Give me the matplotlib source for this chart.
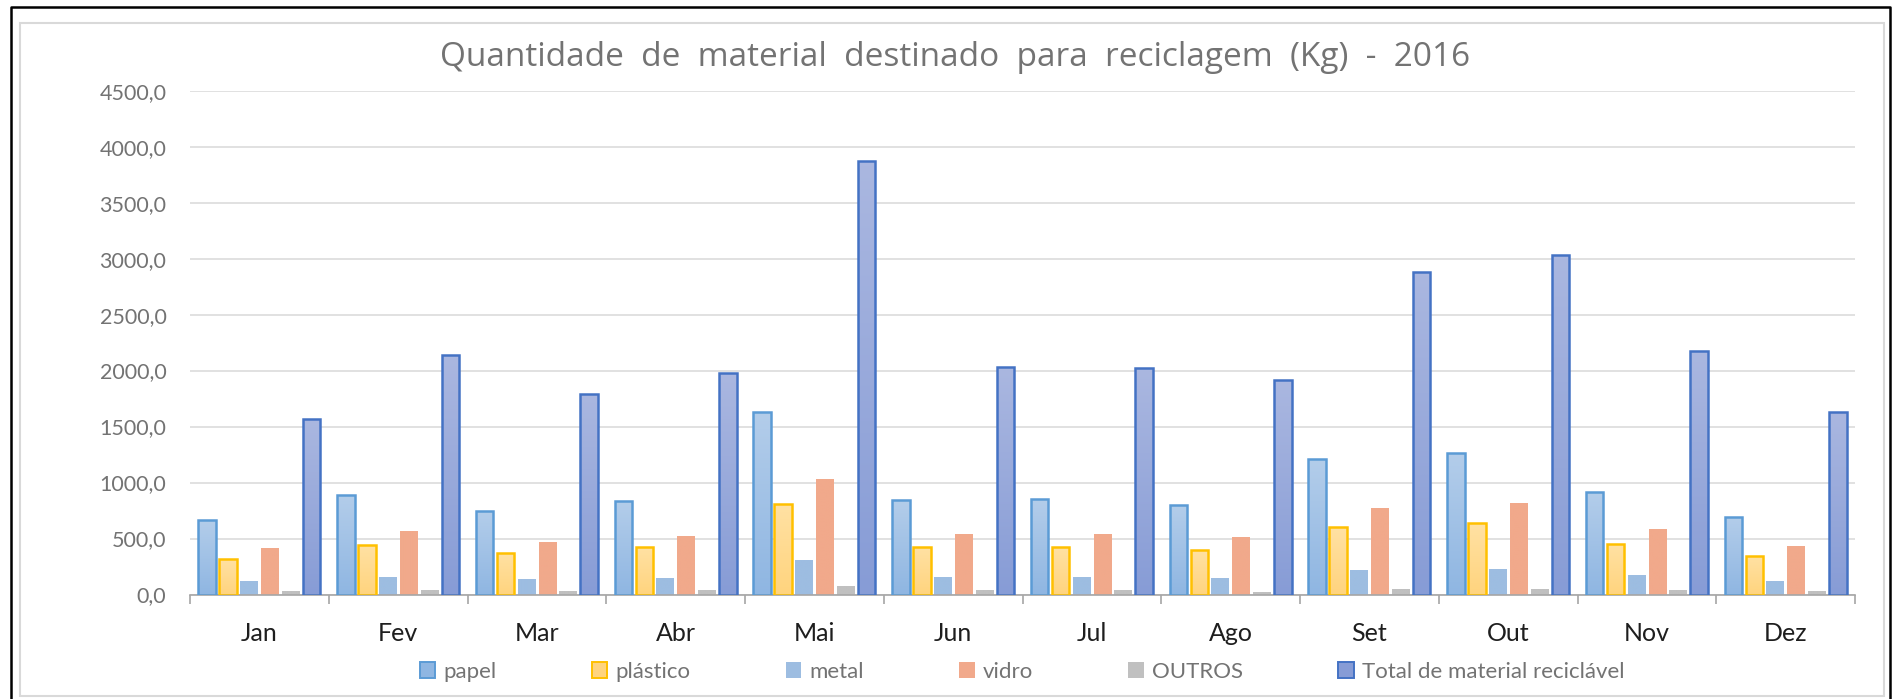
import numpy as np
import matplotlib
matplotlib.use('Agg')
import matplotlib.pyplot as plt
from matplotlib.colors import LinearSegmentedColormap
from matplotlib.patches import Patch, Rectangle
from matplotlib.lines import Line2D
from matplotlib.ticker import FuncFormatter

plt.rcParams['font.family'] = ['Lato', 'DejaVu Sans']

# data (kg)
meses = ['Jan', 'Fev', 'Mar', 'Abr', 'Mai', 'Jun', 'Jul', 'Ago', 'Set', 'Out', 'Nov', 'Dez']
papel = [664, 893, 750, 833, 1627, 845, 849, 801, 1214, 1268, 916, 688]
plastico = [321, 443, 371, 422, 806, 422, 420, 397, 600, 637, 452, 342]
metal = [122, 157, 134, 146, 304, 159, 160, 148, 220, 232, 170, 121]
vidro = [416, 571, 473, 523, 1032, 536, 537, 513, 771, 813, 583, 434]
outros = [30, 38, 27, 39, 74, 38, 38, 25, 52, 50, 36, 27]
total = [1572, 2135, 1795, 1974, 3874, 2031, 2022, 1914, 2882, 3035, 2179, 1634]

nomes = ['papel', 'plástico', 'metal', 'vidro', 'OUTROS', 'Total de material reciclável']
series = [papel, plastico, metal, vidro, outros, total]

# (top colour, bottom colour, edge colour)
estilos = [
    ('#B3CDEA', '#8FB6E2', '#5B9BD5'),
    ('#FFE1A3', '#FFD47E', '#FFC000'),
    ('#9DBDE1', '#9DBDE1', None),
    ('#F1A98B', '#F1A98B', None),
    ('#C0C0C0', '#C0C0C0', None),
    ('#AAB7E0', '#879CD6', '#4472C4'),
]

W, H = 1896, 699
fig = plt.figure(figsize=(W / 100, H / 100), dpi=100)
ax = fig.add_axes([190 / W, 1 - 594.5 / H, (1855 - 190) / W, (594.5 - 90.7) / H])

x = np.arange(len(meses))
passo = 0.1506
larg = 0.126

for i, (vals, (top, bot, edge)) in enumerate(zip(series, estilos)):
    pos = x + (i - 2.5) * passo
    bars = ax.bar(pos, vals, width=larg, facecolor='none',
                  edgecolor=edge if edge else 'none', linewidth=1.8, zorder=3)
    cmap = LinearSegmentedColormap.from_list('g%d' % i, [bot, top])
    for b in bars:
        x0, w, h = b.get_x(), b.get_width(), b.get_height()
        ax.imshow(np.linspace(0, 1, 64).reshape(-1, 1), extent=[x0, x0 + w, 0, h],
                  origin='lower', aspect='auto', cmap=cmap, zorder=2,
                  interpolation='bilinear')

ax.set_xlim(-0.5, 11.5)
ax.set_ylim(0, 4500)
ax.set_yticks(np.arange(0, 4501, 500))
ax.yaxis.set_major_formatter(FuncFormatter(lambda v, p: ('%.1f' % v).replace('.', ',')))
ax.grid(axis='y', color='#D9D9D9', linewidth=1.1)
ax.set_axisbelow(True)

ax.set_xticks(x)
ax.set_xticklabels(meses)
ax.set_xticks(np.arange(-0.5, 12, 1), minor=True)
ax.tick_params(axis='x', which='major', length=0, pad=20, labelsize=18, labelcolor='#1E1E1E')
ax.tick_params(axis='x', which='minor', length=6.5, width=1.2, color='#A6A6A6')
ax.tick_params(axis='y', length=0, pad=17, labelsize=15.5, labelcolor='#737373')

for s in ['top', 'right', 'left']:
    ax.spines[s].set_visible(False)
ax.spines['bottom'].set_color('#A6A6A6')
ax.spines['bottom'].set_linewidth(1.2)
ax.spines['bottom'].set_zorder(2.5)

fig.text(955 / W, 1 - 66 / H, 'Quantidade  de  material  destinado  para  reciclagem  (Kg)  -  2016',
         ha='center', va='baseline', fontsize=24, color='#737373',
         family=['Open Sans', 'DejaVu Sans'])

handles = [Patch(facecolor=(top if edge is None else bot), edgecolor=(edge if edge else 'none'),
                 linewidth=1.4, label=n) for n, (top, bot, edge) in zip(nomes, estilos)]
fig.legend(handles=handles, loc='center', bbox_to_anchor=(1022 / W, 1 - 672 / H), ncol=6,
           frameon=False, fontsize=16, labelcolor='#737373', handlelength=0.7,
           handleheight=0.7, handletextpad=0.35, columnspacing=4.3)

# chart area border and outer black frame
fig.add_artist(Rectangle((19.5 / W, 1 - 696 / H), (1884 - 19.5) / W, (696 - 23) / H,
                         transform=fig.transFigure, fill=False, edgecolor='#D9D9D9', linewidth=1.5))
fig.add_artist(Line2D([10.5 / W, 10.5 / W, 1890 / W, 1890 / W], [0, 1 - 7 / H, 1 - 7 / H, 0],
                      transform=fig.transFigure, color='black', linewidth=1.8))

fig.savefig('out.png', dpi=100)
